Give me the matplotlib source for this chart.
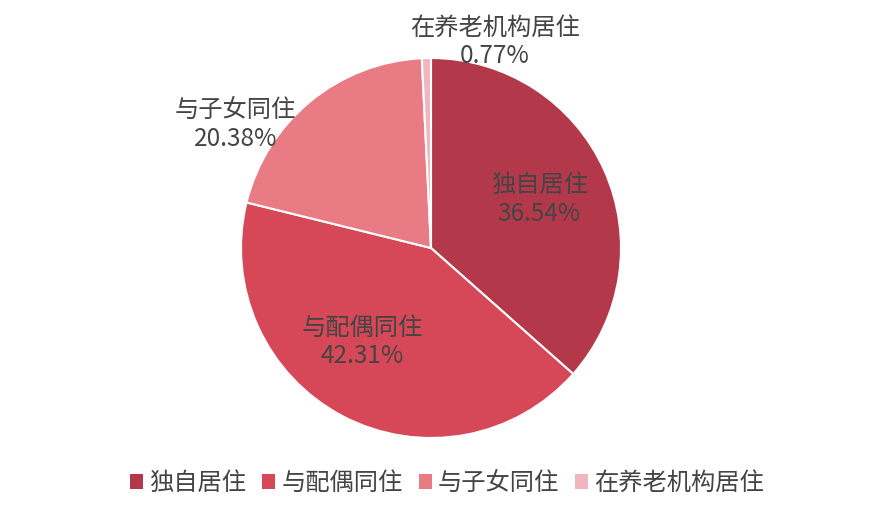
import matplotlib
matplotlib.use("Agg")
import matplotlib.pyplot as plt
from matplotlib.patches import Patch

plt.rcParams['font.family'] = ['Noto Sans CJK SC', 'DejaVu Sans']

################################ data
labels = ["独自居住", "与配偶同住", "与子女同住", "在养老机构居住"]
values = [36.54, 42.31, 20.38, 0.77]
colors = ["#B3394A", "#D64858", "#E97B85", "#F0B6BD"]
text_col = "#444444"

# label positions (axes coords of pie, radius 1)
label_pos = [(0.57, 0.255), (-0.36, -0.495), (-1.03, 0.65), (0.335, 1.085)]

################################ plot
fig = plt.figure(figsize=(8.93, 5.23), dpi=100)
ax = fig.add_axes([241 / 893, 85 / 523, 380 / 893, 380 / 523])

wedges, _ = ax.pie(values, colors=colors, startangle=90, counterclock=False,
                   radius=1, wedgeprops=dict(edgecolor="white", linewidth=1.5))
ax.set_xlim(-1, 1)
ax.set_ylim(-1, 1)
ax.set_aspect("equal")
ax.axis("off")

for lab, v, (x, y) in zip(labels, values, label_pos):
    ax.text(x, y, "{}\n{:.2f}%".format(lab, v), ha="center", va="center",
            fontsize=17.5, color=text_col, linespacing=1.12, clip_on=False)

handles = [Patch(facecolor=c, edgecolor="none") for c in colors]
fig.legend(handles, labels, loc="center", bbox_to_anchor=(447 / 893, 1 - 483 / 523),
           ncol=4, frameon=False, fontsize=17.5, handlelength=0.55, handleheight=0.55,
           handletextpad=0.25, columnspacing=0.65, labelcolor=text_col)

fig.savefig("out.png", dpi=100)
